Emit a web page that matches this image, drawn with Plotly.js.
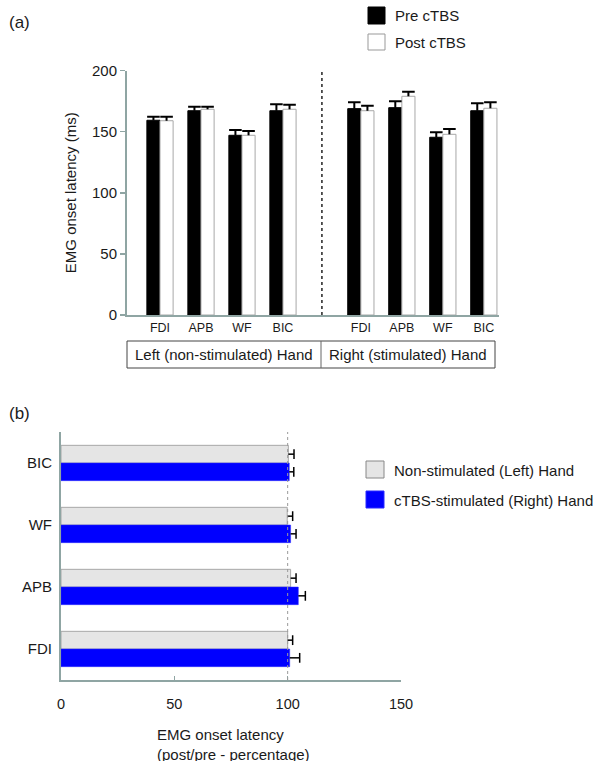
<!DOCTYPE html>
<html>
<head>
<meta charset="utf-8">
<script src="https://cdn.plot.ly/plotly-3.0.1.min.js"></script>
<style>html,body{margin:0;padding:0;background:#fff;}#chart{width:600px;height:761px;}</style>
</head>
<body>
<div id="chart"></div>
<script>
// ---------- Panel (a) data ----------
const muscles = ["FDI", "APB", "WF", "BIC"];
const seriesNamesA = ["Pre cTBS", "Post cTBS"];
const handLabels = ["Left (non-stimulated) Hand", "Right (stimulated) Hand"];
const leftPre = [159.3, 167.1, 147.0, 167.1];
const leftPreErr = [2.9, 3.3, 4.3, 5.3];
const leftPost = [158.9, 168.3, 147.0, 168.3];
const leftPostErr = [3.3, 2.1, 3.5, 3.7];
const rightPre = [168.8, 169.6, 145.4, 167.1];
const rightPreErr = [5.2, 5.2, 4.0, 6.1];
const rightPost = [167.1, 178.9, 147.8, 169.1];
const rightPostErr = [4.1, 3.8, 4.3, 4.9];
const yTicksA = [0, 50, 100, 150, 200];

// ---------- Panel (b) data ----------
const musclesB = ["FDI", "APB", "WF", "BIC"];
const seriesNamesB = ["Non-stimulated (Left) Hand", "cTBS-stimulated (Right) Hand"];
const nonStim = [100.0, 101.3, 99.8, 100.3];
const nonStimErr = [2.2, 2.4, 2.4, 2.5];
const stim = [100.9, 104.7, 101.3, 100.7];
const stimErr = [4.4, 3.1, 2.4, 2.0];
const xTicksB = [0, 50, 100, 150];

// ---------- layout helpers ----------
const W = 600, H = 761;
const px = v => v / W;
const py = v => 1 - v / H;
const FONT = "Liberation Sans, Arial, Helvetica, sans-serif";
const TXT = "#1a1a1a";
const AX = "#8fa5a3";
const rightOffset = 4.9;

const idx = muscles.map((_, i) => i);
const xLeft = idx;
const xRight = idx.map(i => i + rightOffset);
const xAll = xLeft.concat(xRight);
const zeros = n => new Array(n).fill(0);
const add = (a, b) => a.map((v, i) => v + b[i]);

const wA = 0.32, wB = 0.285;

const preVals = leftPre.concat(rightPre), preErr = leftPreErr.concat(rightPreErr);
const postVals = leftPost.concat(rightPost), postErr = leftPostErr.concat(rightPostErr);
const yB = musclesB.map((_, i) => i);

const traces = [
  {
    type: "bar", name: seriesNamesA[0], x: xAll, y: preVals,
    xaxis: "x", yaxis: "y", width: wA, offset: -wA,
    marker: {color: "#000000", line: {color: "#000000", width: 1}},
    error_y: {type: "data", symmetric: false, array: preErr, arrayminus: zeros(8),
              color: "#000", thickness: 2, width: 0},
    showlegend: false, hoverinfo: "y"
  },
  {
    type: "bar", name: seriesNamesA[1], x: xAll, y: postVals,
    xaxis: "x", yaxis: "y", width: wA, offset: 0,
    marker: {color: "#ffffff", line: {color: "#a8a8a8", width: 1}},
    error_y: {type: "data", symmetric: false, array: postErr, arrayminus: zeros(8),
              color: "#000", thickness: 2, width: 0},
    showlegend: false, hoverinfo: "y"
  },
  // error-bar caps (top only) for panel (a)
  {
    type: "scatter", mode: "markers", xaxis: "x", yaxis: "y",
    x: xAll.map(v => v - wA / 2).concat(xAll.map(v => v + wA / 2)),
    y: add(preVals, preErr).concat(add(postVals, postErr)),
    marker: {symbol: "line-ew", size: 9, line: {color: "#000", width: 2}},
    showlegend: false, hoverinfo: "skip"
  },
  {
    type: "bar", orientation: "h", name: seriesNamesB[0], y: yB, x: nonStim,
    xaxis: "x2", yaxis: "y2", width: wB, offset: 0,
    marker: {color: "#e5e5e5", line: {color: "#a8a8a8", width: 1}},
    error_x: {type: "data", symmetric: false, array: nonStimErr, arrayminus: zeros(4),
              color: "#000", thickness: 1.5, width: 0},
    showlegend: false, hoverinfo: "x"
  },
  {
    type: "bar", orientation: "h", name: seriesNamesB[1], y: yB, x: stim,
    xaxis: "x2", yaxis: "y2", width: wB, offset: -wB,
    marker: {color: "#0000ff", line: {color: "#2a2aff", width: 0.5}},
    error_x: {type: "data", symmetric: false, array: stimErr, arrayminus: zeros(4),
              color: "#000", thickness: 1.5, width: 0},
    showlegend: false, hoverinfo: "x"
  },
  // error-bar caps (right end only) for panel (b)
  {
    type: "scatter", mode: "markers", xaxis: "x2", yaxis: "y2",
    x: add(nonStim, nonStimErr).concat(add(stim, stimErr)),
    y: yB.map(v => v + wB / 2).concat(yB.map(v => v - wB / 2)),
    marker: {symbol: "line-ns", size: 7, line: {color: "#000", width: 1.5}},
    showlegend: false, hoverinfo: "skip"
  }
];

const shapes = [
  // dotted separator in (a)
  {type: "line", xref: "x", yref: "y", x0: (3 + rightOffset) / 2, x1: (3 + rightOffset) / 2, y0: 0, y1: 200,
   line: {color: "#222", width: 1.5, dash: "dot"}},
  // hand box in (a)
  {type: "rect", xref: "paper", yref: "paper", x0: px(127), x1: px(495), y0: py(368), y1: py(341),
   line: {color: "#444", width: 1}},
  {type: "line", xref: "paper", yref: "paper", x0: px(321), x1: px(321), y0: py(368), y1: py(341),
   line: {color: "#666", width: 1}},
  // reference line at 100 in (b)
  {type: "line", xref: "x2", yref: "paper", x0: 100, x1: 100, y0: py(680), y1: py(432),
   line: {color: "#999", width: 1, dash: "dot"}},
  // legend (a)
  {type: "rect", xref: "paper", yref: "paper", x0: px(368), x1: px(385), y0: py(24), y1: py(7),
   fillcolor: "#000", line: {color: "#000", width: 1}},
  {type: "rect", xref: "paper", yref: "paper", x0: px(368), x1: px(385), y0: py(50), y1: py(34),
   fillcolor: "#fff", line: {color: "#999", width: 1}},
  // legend (b)
  {type: "rect", xref: "paper", yref: "paper", x0: px(366), x1: px(384), y0: py(478), y1: py(461),
   fillcolor: "#e5e5e5", line: {color: "#888", width: 1}},
  {type: "rect", xref: "paper", yref: "paper", x0: px(366), x1: px(384), y0: py(508), y1: py(491),
   fillcolor: "#0000ff", line: {color: "#2a2aff", width: 1}}
];

const annotations = [
  {text: "(a)", xref: "paper", yref: "paper", x: px(7), y: py(22), xanchor: "left", yanchor: "middle",
   showarrow: false, font: {size: 17, color: TXT}},
  {text: "(b)", xref: "paper", yref: "paper", x: px(7), y: py(413), xanchor: "left", yanchor: "middle",
   showarrow: false, font: {size: 17, color: TXT}},
  {text: handLabels[0], xref: "paper", yref: "paper", x: px(224), y: py(354.5), xanchor: "center", yanchor: "middle",
   showarrow: false, font: {size: 15, color: TXT}},
  {text: handLabels[1], xref: "paper", yref: "paper", x: px(408), y: py(354.5), xanchor: "center", yanchor: "middle",
   showarrow: false, font: {size: 15, color: TXT}},
  {text: seriesNamesA[0], xref: "paper", yref: "paper", x: px(393), y: py(15.5), xanchor: "left", yanchor: "middle",
   showarrow: false, font: {size: 15, color: TXT}},
  {text: seriesNamesA[1], xref: "paper", yref: "paper", x: px(393), y: py(42), xanchor: "left", yanchor: "middle",
   showarrow: false, font: {size: 15, color: TXT}},
  {text: seriesNamesB[0], xref: "paper", yref: "paper", x: px(392), y: py(470), xanchor: "left", yanchor: "middle",
   showarrow: false, font: {size: 15, color: TXT}},
  {text: seriesNamesB[1], xref: "paper", yref: "paper", x: px(392), y: py(500), xanchor: "left", yanchor: "middle",
   showarrow: false, font: {size: 15, color: TXT}},
  {text: "EMG onset latency<br>(post/pre - percentage)", xref: "paper", yref: "paper", x: px(155), y: py(724),
   xanchor: "left", yanchor: "top", align: "left", showarrow: false, font: {size: 15, color: TXT}}
];

const layout = {
  width: W, height: H,
  margin: {l: 0, r: 0, t: 0, b: 0},
  paper_bgcolor: "#fff", plot_bgcolor: "rgba(0,0,0,0)",
  font: {family: FONT, color: TXT},
  showlegend: false,
  barmode: "group",
  xaxis: {
    domain: [px(127), px(499)], anchor: "y",
    range: [-0.805, 8.27], showgrid: false, zeroline: false,
    showline: true, linecolor: AX, linewidth: 2,
    tickvals: xAll, ticktext: muscles.concat(muscles),
    ticks: "", tickfont: {size: 12.5, color: TXT}, fixedrange: true
  },
  yaxis: {
    domain: [py(315), py(70.5)], anchor: "x",
    range: [0, 200], showgrid: false, zeroline: false,
    showline: true, linecolor: AX, linewidth: 2,
    tickvals: yTicksA, ticks: "outside", ticklen: 5, tickwidth: 1.5, tickcolor: AX,
    tickfont: {size: 15, color: TXT},
    title: {text: "EMG onset latency (ms)", font: {size: 15, color: TXT}, standoff: 12},
    fixedrange: true
  },
  xaxis2: {
    domain: [px(61), px(401)], anchor: "y2",
    range: [0, 150], showgrid: false, zeroline: false,
    showline: true, linecolor: AX, linewidth: 2,
    tickvals: xTicksB, ticks: "inside", ticklen: 4, tickwidth: 1.5, tickcolor: AX,
    tickfont: {size: 14.5, color: TXT}, ticklabelstandoff: 10, fixedrange: true
  },
  yaxis2: {
    domain: [py(680), py(432)], anchor: "x2",
    range: [-0.5, 3.5], showgrid: false, zeroline: false,
    showline: true, linecolor: AX, linewidth: 2,
    tickvals: yB, ticktext: musclesB,
    ticks: "", tickfont: {size: 15, color: TXT}, ticklabelstandoff: 4, fixedrange: true
  },
  shapes: shapes,
  annotations: annotations
};

Plotly.newPlot("chart", traces, layout, {displayModeBar: false, staticPlot: true});
</script>
</body>
</html>
